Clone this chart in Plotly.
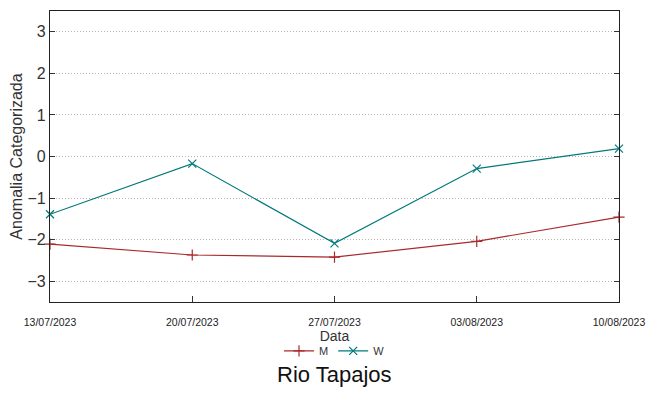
import plotly.graph_objects as go

# Data
datas = ["2023-07-13", "2023-07-20", "2023-07-27", "2023-08-03", "2023-08-10"]
serie_m = [-2.11, -2.37, -2.42, -2.04, -1.46]
serie_w = [-1.39, -0.17, -2.09, -0.29, 0.19]
yticks = [-3, -2, -1, 0, 1, 2, 3]

cor_m = "#a8292c"
cor_w = "#00797b"
fonte = "Liberation Sans Narrow, Liberation Sans, Arial"

fig = go.Figure()
fig.add_trace(go.Scatter(
    x=datas, y=serie_m, name="M", mode="lines+markers",
    line=dict(color=cor_m, width=1.2),
    marker=dict(symbol="cross-thin-open", size=8, color=cor_m, line=dict(width=1.2, color=cor_m)),
    cliponaxis=False,
))
fig.add_trace(go.Scatter(
    x=datas, y=serie_w, name="W", mode="lines+markers",
    line=dict(color=cor_w, width=1.2),
    marker=dict(symbol="x-thin-open", size=8, color=cor_w, line=dict(width=1.2, color=cor_w)),
    cliponaxis=False,
))

# the page body adds an 8px offset, so margins are shifted to compensate
fig.update_layout(
    width=657, height=394,
    margin=dict(l=42, r=46, t=3, b=100, autoexpand=False),
    plot_bgcolor="white", paper_bgcolor="white",
    font=dict(family=fonte, color="#333333"),
    showlegend=True,
    legend=dict(orientation="h", x=0.5, xanchor="center", y=-0.168, yanchor="middle",
                font=dict(size=11), itemwidth=30, tracegroupgap=0),
    xaxis=dict(
        type="date", range=["2023-07-13", "2023-08-10"],
        tickvals=datas, tickformat="%d/%m/%Y",
        tickfont=dict(size=10.5, family=fonte, color="#222222"),
        ticks="inside", ticklen=6, tickcolor="#333333",
        ticklabelstandoff=10,
        showgrid=False, zeroline=False,
        showline=True, linecolor="#222222", linewidth=1.3, mirror=True,
        title=dict(text="Data", font=dict(size=14), standoff=0),
    ),
    yaxis=dict(
        range=[-3.5, 3.5], tickvals=yticks,
        tickfont=dict(size=16, family=fonte, color="#333333"),
        ticks="inside", ticklen=5, tickcolor="#333333",
        showgrid=True, gridcolor="#b5b5b5", griddash="1px,2px", gridwidth=1,
        zeroline=False,
        showline=True, linecolor="#222222", linewidth=1.3, mirror="ticks",
        title=dict(text="Anomalia Categorizada", font=dict(size=16), standoff=8),
    ),
    annotations=[dict(text="Rio Tapajos", x=0.5, xref="paper", y=-0.248, yref="paper",
                      xanchor="center", yanchor="middle", showarrow=False,
                      font=dict(size=22, family=fonte, color="#111111"))],
)

fig.write_html("out.html")
